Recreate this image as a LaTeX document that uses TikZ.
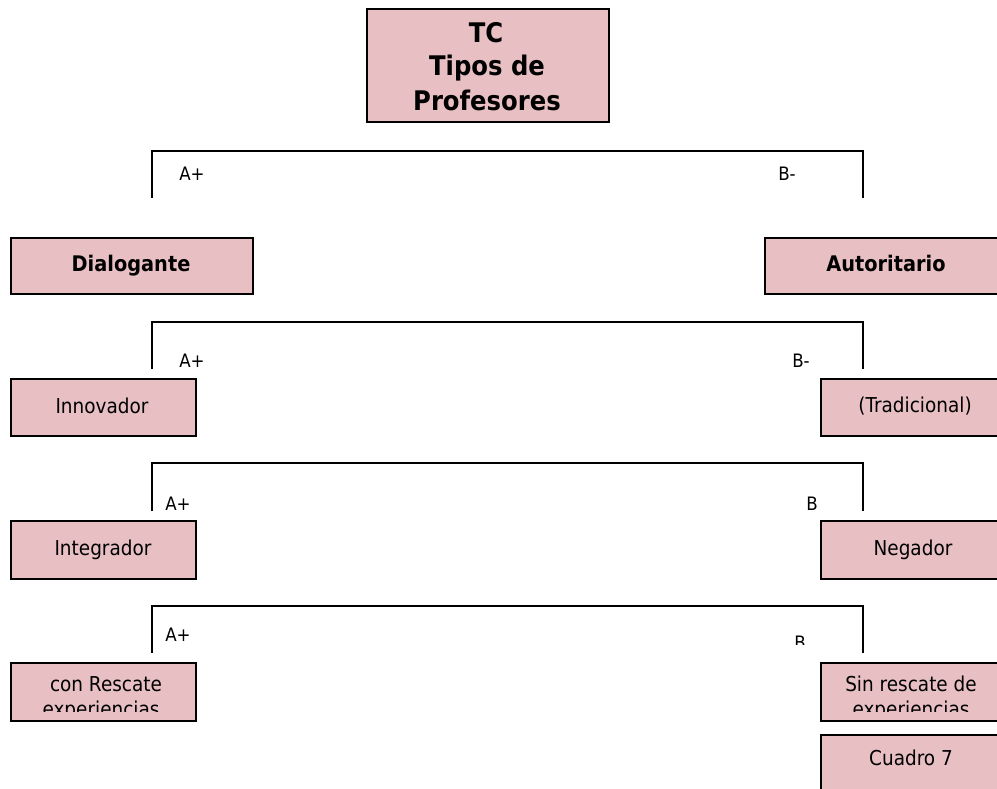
\documentclass[tikz,border=0pt]{standalone}
\usepackage{fontspec}
\setmainfont{DejaVu Sans}[FakeStretch=0.9]
\definecolor{boxpink}{RGB}{232,192,195}
\tikzset{
  box/.style={draw=black, line width=1.7pt, fill=boxpink, inner sep=0pt, anchor=north west},
  lbl/.style={font=\fontsize{20.5}{24}\selectfont, anchor=base, inner sep=0pt},
  blbl/.style={font=\fontsize{21.5}{24}\bfseries\selectfont, anchor=base, inner sep=0pt},
  tlbl/.style={font=\fontsize{27}{32}\bfseries\selectfont, anchor=base, inner sep=0pt},
  elbl/.style={font=\fontsize{18.5}{20}\selectfont, anchor=base, inner sep=0pt},
  bracket/.style={draw=black, line width=1.7pt},
}
\begin{document}
\begin{tikzpicture}[x=1pt,y=-1pt]
\useasboundingbox (0,0) rectangle (997,789);
\clip (0,0) rectangle (997,789);

% top box
\node[box, minimum width=242pt, minimum height=113pt] (top) at (366,8) {};
\node[tlbl] (t1) at (486,43) {TC};
\node[tlbl] (t2) at (487,76) {Tipos de};
\node[tlbl] (t3) at (487,111) {Profesores};

% bracket 1
\coordinate (b1l) at (152,198);
\coordinate (b1r) at (863,198);
\draw[bracket] (b1l) -- ++(0,-47) -| (b1r);
\node[elbl] (e1a) at (192,181) {A+};
\node[elbl] (e1b) at (787,181) {B-};

% level 1
\node[box, minimum width=242pt, minimum height=56pt] (dia) at (10,237) {};
\node[blbl] (dial) at (131,272) {Dialogante};
\node[box, minimum width=260pt, minimum height=56pt] (aut) at (764,237) {};
\node[blbl] (autl) at (886,272) {Autoritario};

% bracket 2
\coordinate (b2l) at (152,369);
\coordinate (b2r) at (863,369);
\draw[bracket] (b2l) -- ++(0,-47) -| (b2r);
\node[elbl] (e2a) at (192,367) {A+};
\node[elbl] (e2b) at (801,367) {B-};

% level 2
\node[box, minimum width=185pt, minimum height=57pt] (inn) at (10,378) {};
\node[lbl] (innl) at (102,413) {Innovador};
\node[box, minimum width=200pt, minimum height=57pt] (tra) at (820,378) {};
\node[lbl] (tral) at (915,412) {(Tradicional)};

% bracket 3
\coordinate (b3l) at (152,511);
\coordinate (b3r) at (863,511);
\draw[bracket] (b3l) -- ++(0,-48) -| (b3r);
\node[elbl] (e3a) at (178,510) {A+};
\node[elbl] (e3b) at (812,510) {B};

% level 3
\node[box, minimum width=185pt, minimum height=58pt] (int) at (10,520) {};
\node[lbl] (intl) at (103,555) {Integrador};
\node[box, minimum width=200pt, minimum height=58pt] (neg) at (820,520) {};
\node[lbl] (negl) at (913,555) {Negador};

% bracket 4
\coordinate (b4l) at (152,653);
\coordinate (b4r) at (863,653);
\draw[bracket] (b4l) -- ++(0,-47) -| (b4r);
\node[elbl] (e4a) at (178,641) {A+};
\begin{scope}
  \clip (780,600) rectangle (830,644);
  \node[elbl] (e4b) at (800,649) {B};
\end{scope}

% level 4
\node[box, minimum width=185pt, minimum height=58pt] (con) at (10,662) {};
\begin{scope}
  \clip (12,664) rectangle (193,711);
  \node[lbl] (con1) at (106,691) {con Rescate};
  \node[lbl] (con2) at (101,716) {experiencias};
\end{scope}
\node[box, minimum width=200pt, minimum height=58pt] (sin) at (820,662) {};
\begin{scope}
  \clip (822,664) rectangle (997,711);
  \node[lbl] (sin1) at (911,691) {Sin rescate de};
  \node[lbl] (sin2) at (911,716) {experiencias};
\end{scope}

% cuadro 7
\node[box, minimum width=200pt, minimum height=80pt] (cua) at (820,734) {};
\node[lbl] (cual) at (911,765) {Cuadro 7};
\end{tikzpicture}
\end{document}
